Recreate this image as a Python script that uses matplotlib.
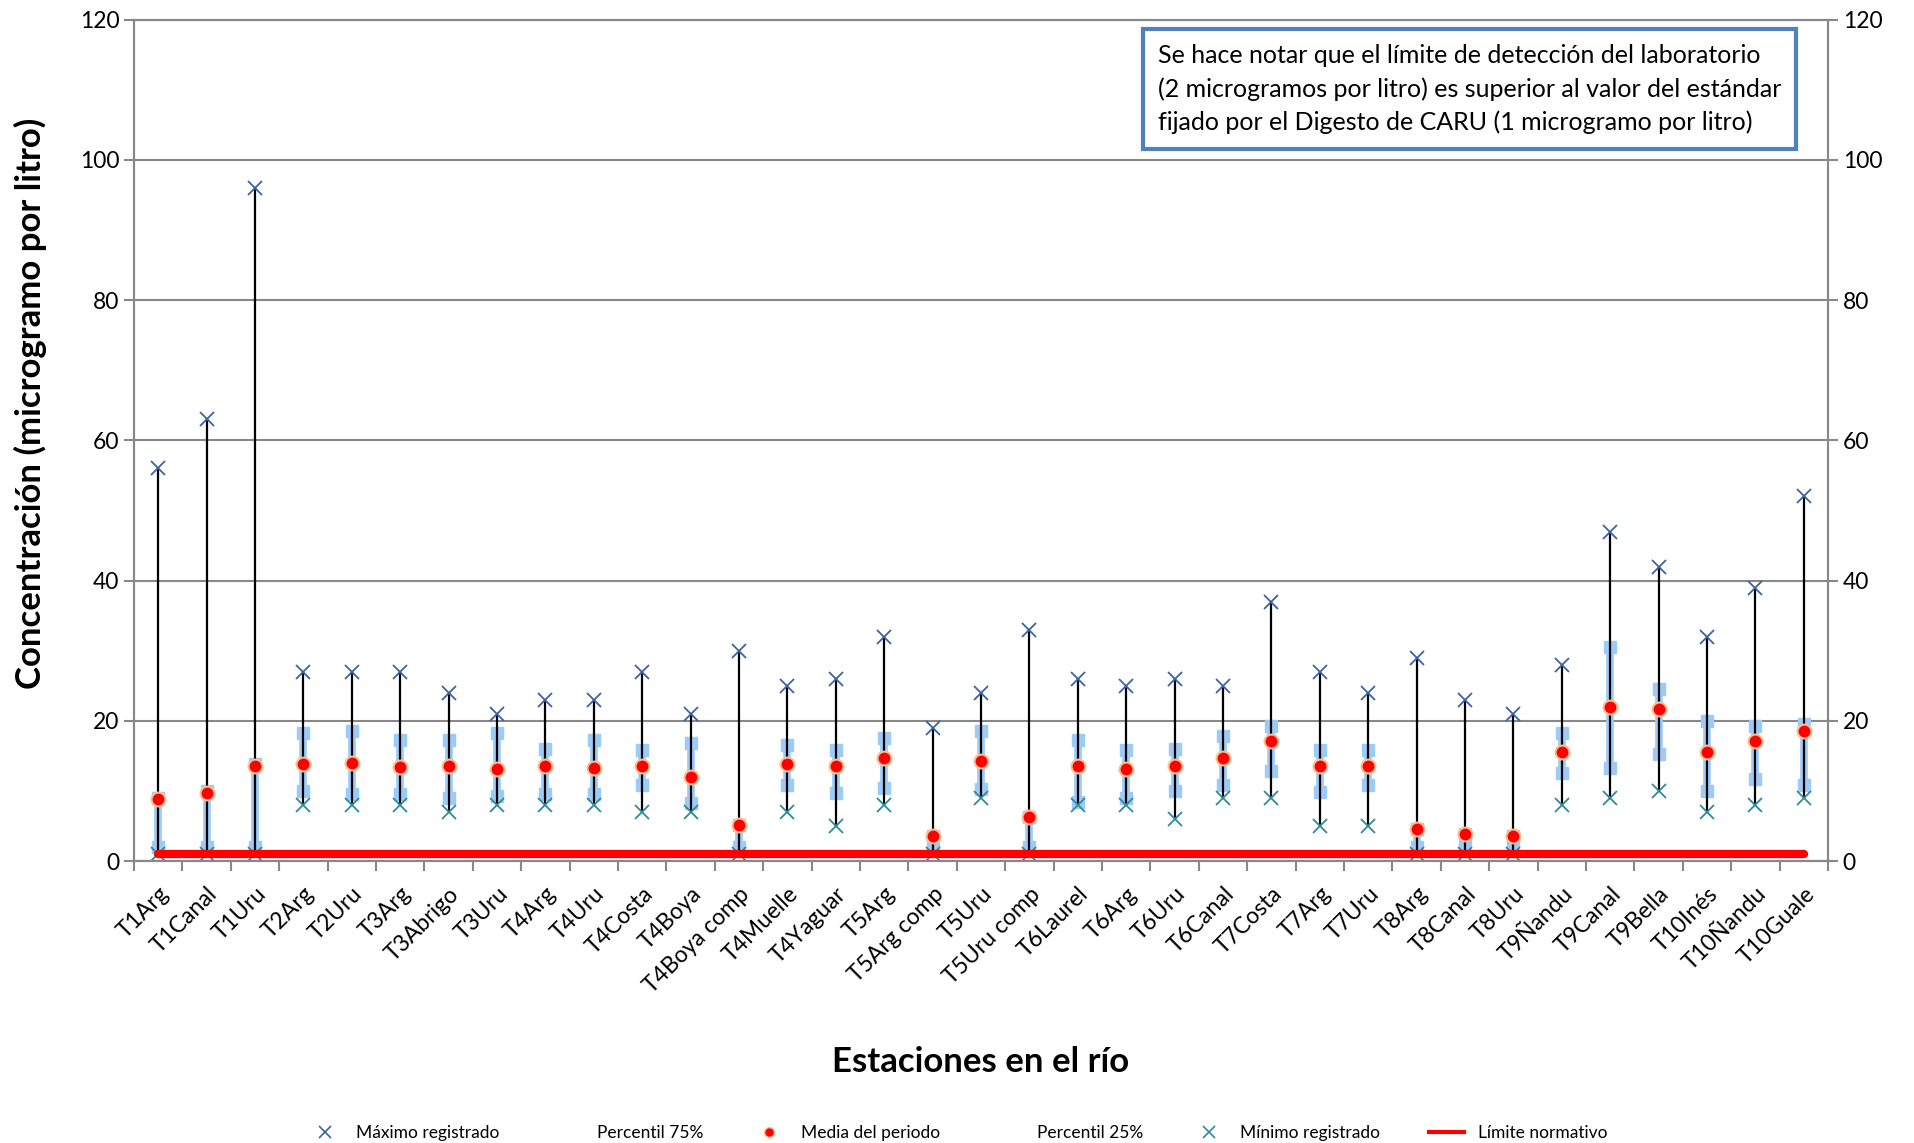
import matplotlib.pyplot as plt
from matplotlib.lines import Line2D

estaciones = ["T1Arg", "T1Canal", "T1Uru", "T2Arg", "T2Uru", "T3Arg", "T3Abrigo", "T3Uru",
              "T4Arg", "T4Uru", "T4Costa", "T4Boya", "T4Boya comp", "T4Muelle", "T4Yaguar",
              "T5Arg", "T5Arg comp", "T5Uru", "T5Uru comp", "T6Laurel", "T6Arg", "T6Uru",
              "T6Canal", "T7Costa", "T7Arg", "T7Uru", "T8Arg", "T8Canal", "T8Uru",
              "T9Ñandu", "T9Canal", "T9Bella", "T10Inés", "T10Ñandu", "T10Guale"]

maximo = [56, 63, 96, 27, 27, 27, 24, 21, 23, 23, 27, 21, 30, 25, 26, 32, 19, 24, 33, 26,
          25, 26, 25, 37, 27, 24, 29, 23, 21, 28, 47, 42, 32, 39, 52]
p75 = [9.0, 10.0, 13.8, 18.2, 18.5, 17.2, 17.2, 18.2, 16.0, 17.2, 15.8, 16.8, 5.2, 16.5,
       15.8, 17.5, 3.6, 18.5, 6.3, 17.2, 15.8, 16.0, 17.8, 19.2, 15.8, 15.8, 4.5, 3.9, 3.5,
       18.2, 30.5, 24.5, 20.0, 19.2, 19.6]
media = [8.8, 9.7, 13.6, 13.9, 14.0, 13.4, 13.5, 13.1, 13.5, 13.2, 13.5, 12.0, 5.2, 13.8,
         13.6, 14.7, 3.6, 14.3, 6.3, 13.5, 13.1, 13.5, 14.7, 17.1, 13.5, 13.6, 4.5, 3.9, 3.5,
         15.6, 21.9, 21.7, 15.6, 17.1, 18.6]
p25 = [2, 2, 2, 10.0, 9.5, 9.5, 9.0, 9.3, 9.5, 9.5, 10.8, 8.3, 2, 10.8, 9.7, 10.4, 2, 10.3,
       2, 8.4, 9.0, 10.0, 10.8, 12.8, 9.8, 10.8, 2, 2, 2, 12.6, 13.3, 15.3, 10.0, 11.7, 10.8]
minimo = [1, 1, 1, 8, 8, 8, 7, 8, 8, 8, 7, 7, 1, 7, 5, 8, 1, 9, 1, 8, 8, 6, 9, 9, 5, 5, 1,
          1, 1, 8, 9, 10, 7, 8, 9]
limite = [1] * len(estaciones)

plt.rcParams['font.family'] = ['Lato', 'DejaVu Sans']

x = list(range(len(estaciones)))

fig = plt.figure(figsize=(19.15, 11.43), dpi=100)
ax = fig.add_axes([0.070, 0.2467, 0.8846, 0.736])

azul_claro = '#9CCBF7'
# percentiles 25-75
ax.vlines(x, p25, p75, color=azul_claro, lw=5.5, zorder=2)
ax.plot(x, p75, 's', color=azul_claro, ms=8, zorder=2)
ax.plot(x, p25, 's', color=azul_claro, ms=8, zorder=2)
# max - min
ax.vlines(x, minimo, maximo, color='black', lw=1.6, zorder=3)
ax.plot(x, minimo, 'x', color='#2F8A9C', ms=9.5, mew=1.3, zorder=3)
ax.plot(x, limite, '-', color='#FF0000', lw=6, solid_capstyle='round', zorder=4)
ax.plot(x, media, 'o', color='#FF0000', mec='#F9BE8F', mew=1.5, ms=10, zorder=5)
ax.plot(x, maximo, 'x', color='#3B63A3', ms=9.5, mew=1.3, zorder=5)

ax.set_xlim(-0.5, len(estaciones) - 0.5)
ax.set_ylim(0, 120)
ax.set_yticks(range(0, 121, 20))
ax.grid(axis='y', color='#888888', lw=1.5)
ax.set_axisbelow(True)

ax.set_xticks([i - 0.5 for i in range(len(estaciones) + 1)])
ax.set_xticklabels([])
ax.set_xticks(x, minor=True)
ax.set_xticklabels(estaciones, minor=True, rotation=45, ha='right', rotation_mode='anchor',
                   fontsize=16.5)
ax.tick_params(axis='x', which='minor', length=0, pad=16)
ax.tick_params(axis='x', which='major', length=7, color='#888888', width=1.5)
ax.tick_params(axis='y', labelsize=16.5, length=7, color='#888888', width=1.5)
for s in ax.spines.values():
    s.set_color('#888888')
    s.set_linewidth(1.5)

ax2 = ax.twinx()
ax2.set_ylim(0, 120)
ax2.set_yticks(range(0, 121, 20))
ax2.tick_params(axis='y', labelsize=16.5, length=7, color='#888888', width=1.5)
for s in ax2.spines.values():
    s.set_color('#888888')
    s.set_linewidth(1.5)

fig.text(0.016, 0.6475, "Concentración (microgramo por litro)", fontsize=25, fontweight='bold',
         rotation=90, ha='center', va='center')
fig.text(0.512, 0.062, "Estaciones en el río", fontsize=25, fontweight='bold', ha='center')

ax.text(0.6045, 0.971,
        "Se hace notar que el límite de detección del laboratorio\n"
        "(2 microgramos por litro) es superior al valor del estándar\n"
        "fijado por el Digesto de CARU (1 microgramo por litro)",
        transform=ax.transAxes, fontsize=18, va='top', ha='left', linespacing=1.5,
        bbox=dict(boxstyle='square,pad=0.6', fc='white', ec='#4F81BD', lw=3), zorder=10)

handles = [
    Line2D([], [], ls='', marker='x', color='#3B63A3', ms=8, mew=1.2),
    Line2D([], [], ls='', marker=None),
    Line2D([], [], ls='', marker='o', color='#FF0000', mec='#F9BE8F', ms=7),
    Line2D([], [], ls='', marker=None),
    Line2D([], [], ls='', marker='x', color='#2F8A9C', ms=8, mew=1.2),
    Line2D([], [], color='#FF0000', lw=3),
]
labels = ["Máximo registrado", "Percentil 75%", "Media del periodo", "Percentil 25%",
          "Mínimo registrado", "Límite normativo"]
fig.legend(handles, labels, loc='lower center', bbox_to_anchor=(0.5, -0.012), ncol=6,
           frameon=False, fontsize=12.5, columnspacing=2.8, handlelength=2.0)

fig.savefig("out.png", dpi=100)
